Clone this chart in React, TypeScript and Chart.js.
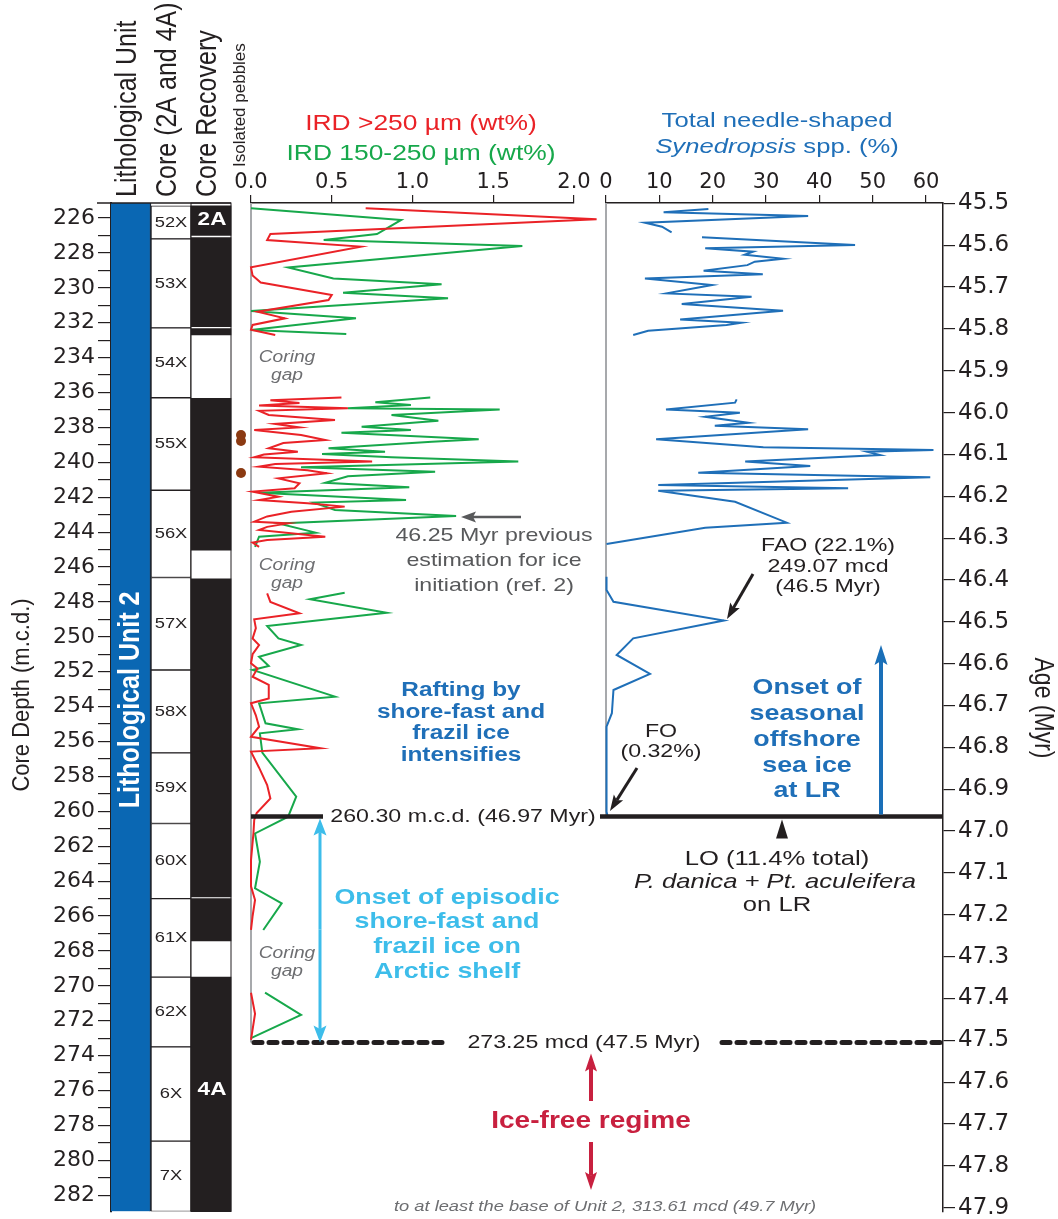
import React, { useEffect, useRef } from 'react';
import { Chart, registerables } from 'chart.js';
Chart.register(...registerables);

const W = 1058;
const H = 1219;
const TOP = 203;
const BOTTOM = 1211.5;
const DEPTH_MIN = 225.14;
const DEPTH_MAX = 282.934;
const AGE_MIN = 45.4993;
const AGE_MAX = 47.909;

const RED = '#ea2227';
const GREEN = '#17a84b';
const BLUE = '#1f6fb8';
const DARK = '#231f20';
const GRAY = '#58595b';
const CYAN = '#3dbdea';
const CRIMSON = '#c8203f';
const FONT = '"Liberation Sans", Arial, sans-serif';
const TICKFONT = 'DejaVu Sans';

// Column categories (the last one holds the isolated-pebble marks)
const columnCategories = ['Lith', 'Core', 'Rec', 'Peb'];
// Core column (Hole 2A and 4A) intervals, m.c.d.
const coreNames = ['52X', '53X', '54X', '55X', '56X', '57X', '58X', '59X', '60X', '61X', '62X', '6X', '7X'];
const coreTops = [225.3, 227.2, 232.3, 236.3, 241.6, 246.6, 251.9, 256.65, 260.7, 265.0, 269.5, 273.5, 278.9];
const coreBases = [227.2, 232.3, 236.3, 241.6, 246.6, 251.9, 256.65, 260.7, 265.0, 269.5, 273.5, 278.9, 282.934];
// Core recovery (recovered intervals)
const recoveryTops = [225.3, 227.12, 232.33, 236.33, 246.68, 265.0, 269.5];
const recoveryBases = [227.0, 232.22, 232.7, 245.03, 264.9, 267.43, 282.934];
// Isolated pebbles
const pebbleDepths = [238.44, 238.78, 240.61];

// IRD >250 µm (wt%)
const irdCoarseDepth = [
  225.44, 226.07, 226.92, 227.26, 227.64, 228.83, 229.3, 229.7, 230.41, 230.7, 231.37, 231.75, 232.13, 232.4, 232.7,
  234.0,
  236.28, 236.45, 236.6, 236.75, 236.9, 237.05, 237.29, 237.58, 237.8, 238.0, 238.15, 238.44, 238.72, 238.9, 239.2,
  239.39, 239.55, 239.71, 239.96, 240.1, 240.25, 240.45, 240.63, 240.92, 241.2, 241.49, 241.68, 241.97, 242.16,
  242.35, 242.54, 242.83, 243.1, 243.4, 243.5, 243.7, 243.88, 244.26, 244.45, 244.6, 244.85,
  246.0,
  247.51, 248.0, 248.65, 249.0, 249.5, 250.09, 250.47, 251.0, 251.52, 251.81, 252.29, 252.76, 253.53, 253.81,
  254.5, 255.15, 255.73, 256.39, 256.58, 257.5, 258.5, 259.26, 260.1, 260.5, 261.27, 262.8, 264.3, 265.08, 266.0, 266.8,
  268.0,
  270.4, 271.6, 272.5, 273.1,
];
const irdCoarseWt = [
  0.71, 2.14, 0.12, 0.1, 0.68, 0.0, 0.01, 0.06, 0.5, 0.48, 0.04, 0.21, 0.01, 0.0, 0.15,
  null,
  0.56, 0.12, 0.3, 0.05, 0.6, 0.05, 0.11, 0.52, 0.15, 0.3, 0.02, 0.31, 0.46, 0.2, 0.11,
  0.29, 0.08, 0.02, 0.75, 0.15, 0.05, 0.35, 0.47, 0.17, 0.3, 0.27, 0.01, 0.17, 0.05,
  0.35, 0.58, 0.25, 0.1, 0.02, 0.23, 0.1, 0.05, 0.46, 0.1, 0.01, 0.05,
  null,
  0.1, 0.12, 0.3, 0.02, 0.03, 0.01, 0.05, 0.01, 0.0, 0.04, 0.01, 0.11, 0.11, 0.0,
  0.03, 0.05, 0.0, 0.43, 0.0, 0.05, 0.1, 0.12, 0.035, 0.02, 0.015, 0.0, 0.0, 0.025, 0.01, 0.0,
  null,
  0.0, 0.025, 0.01, 0.0,
];

// IRD 150-250 µm (wt%)
const irdFineDepth = [
  225.44, 226.11, 226.92, 227.26, 227.6, 228.83, 229.46, 229.8, 230.28, 230.6, 231.33, 231.75, 232.42, 232.65,
  234.0,
  236.28, 236.56, 236.72, 236.9, 236.97, 237.29, 237.62, 237.96, 238.15, 238.3, 238.68, 238.82, 239.2, 239.39,
  239.52, 239.71, 239.96, 240.29, 240.54, 240.8, 241.17, 241.43, 241.74, 242.16, 242.31, 242.73, 243.08, 243.5,
  244.03, 244.26, 244.84,
  246.0,
  247.47, 247.85, 248.62, 249.38, 250.09, 250.47, 251.14, 251.67, 251.9, 253.43, 253.81, 254.96, 255.3, 255.53,
  256.64, 259.16, 260.31, 261.27, 262.89, 264.41, 265.27, 266.8,
  268.0,
  270.39, 271.67, 273.0,
];
const irdFineWt = [
  0.0, 0.93, 0.78, 0.45, 1.68, 0.23, 0.51, 1.18, 0.57, 1.22, 0.0, 0.65, 0.0, 0.59,
  null,
  1.11, 0.77, 0.99, 0.6, 1.54, 0.87, 1.16, 0.685, 0.99, 0.56, 1.41, 1.12, 0.48, 0.83,
  0.44, 0.87, 1.655, 0.31, 1.14, 0.6, 0.46, 0.98, 0.05, 0.96, 0.39, 0.52, 1.27, 0.17,
  0.4, 0.05, 0.025,
  null,
  0.58, 0.365, 0.84, 0.1, 0.17, 0.31, 0.05, 0.11, 0.01, 0.52, 0.05, 0.09, 0.29, 0.055,
  0.07, 0.28, 0.23, 0.025, 0.055, 0.025, 0.19, 0.076,
  null,
  0.087, 0.31, 0.0,
];

// Total needle-shaped Synedropsis spp. (%)
const needleDepth = [
  225.48, 225.67, 225.89, 226.27, 226.5, 226.82,
  226.95,
  227.1, 227.55, 227.74, 227.93, 228.1, 228.33, 228.5, 228.7, 229.02, 229.23, 229.46, 229.84, 230.32, 230.51,
  230.93, 231.31, 231.81, 232.0, 232.13, 232.46, 232.7,
  234.0,
  236.39, 236.58, 236.97, 237.16, 237.39, 237.73, 237.9, 238.11, 238.68, 239.14, 239.3, 239.39, 239.58, 239.96,
  240.21, 240.6, 240.86, 241.3, 241.49, 241.63, 242.26, 243.46, 243.75, 244.68,
  245.5,
  246.56, 247.32, 247.99, 249.07, 250.09, 251.04, 252.13, 253.05, 254.38, 255.15, 260.02, 260.3,
];
const needlePct = [
  19.2, 10.8, 37.9, 7.3, 10.5, 12.3,
  null,
  18.0, 46.7, 18.6, 27.6, 26.0, 33.2, 27.9, 26.5, 18.3, 29.4, 7.3, 19.9, 11.4, 27.3,
  14.2, 33.2, 13.9, 25.4, 22.6, 7.9, 5.1,
  null,
  24.5, 24.2, 11.25, 25.1, 18.6, 26.7, 20.4, 37.9, 9.4, 29.5, 61.4, 48.9, 51.4, 26.1,
  38.3, 17.3, 60.8, 9.8, 45.4, 9.8, 24.2, 33.9, 18.6, 0.1,
  null,
  0.1, 0.1, 1.4, 22.1, 5.1, 2.0, 8.25, 1.4, 1.1, 0.1, 0.1, 0.32,
];

const irdTicks = { min: 0, max: 2, step: 0.5 };
const needleTicks = { min: 0, max: 63.19, step: 10 };

type TxtOpt = { font: string; color?: string; align?: CanvasTextAlign; base?: CanvasTextBaseline; rot?: number; sx?: number };
function txt(ctx: CanvasRenderingContext2D, s: string, x: number, y: number, o: TxtOpt) {
  ctx.save();
  ctx.translate(x, y);
  ctx.scale(o.sx ?? 1.22, 1);
  if (o.rot) ctx.rotate(o.rot);
  ctx.font = o.font;
  ctx.fillStyle = o.color ?? DARK;
  ctx.textAlign = o.align ?? 'center';
  ctx.textBaseline = o.base ?? 'middle';
  ctx.fillText(s, 0, 0);
  ctx.restore();
}

function lines(ctx: CanvasRenderingContext2D, arr: string[], x: number, ys: number[], o: TxtOpt) {
  arr.forEach((s, i) => txt(ctx, s, x, ys[i], o));
}

function arrow(ctx: CanvasRenderingContext2D, x1: number, y1: number, x2: number, y2: number, color: string, lw: number, hl: number, hw: number) {
  const a = Math.atan2(y2 - y1, x2 - x1);
  const bx = x2 - hl * Math.cos(a);
  const by = y2 - hl * Math.sin(a);
  const nx = x2 - hl * 0.8 * Math.cos(a);
  const ny = y2 - hl * 0.8 * Math.sin(a);
  ctx.save();
  ctx.strokeStyle = color;
  ctx.fillStyle = color;
  ctx.lineWidth = lw;
  ctx.beginPath();
  ctx.moveTo(x1, y1);
  ctx.lineTo(nx, ny);
  ctx.stroke();
  ctx.beginPath();
  ctx.moveTo(x2, y2);
  ctx.lineTo(bx + (hw / 2) * Math.sin(a), by - (hw / 2) * Math.cos(a));
  ctx.lineTo(nx, ny);
  ctx.lineTo(bx - (hw / 2) * Math.sin(a), by + (hw / 2) * Math.cos(a));
  ctx.closePath();
  ctx.fill();
  ctx.restore();
}

function hline(ctx: CanvasRenderingContext2D, x1: number, x2: number, y: number, lw: number, dash?: number[]) {
  ctx.save();
  ctx.strokeStyle = DARK;
  ctx.lineWidth = lw;
  if (dash) {
    ctx.setLineDash(dash);
    ctx.lineCap = 'round';
  }
  ctx.beginPath();
  ctx.moveTo(x1, y);
  ctx.lineTo(x2, y);
  ctx.stroke();
  ctx.restore();
}

function vline(ctx: CanvasRenderingContext2D, x: number, y1: number, y2: number, color: string, lw: number) {
  ctx.save();
  ctx.strokeStyle = color;
  ctx.lineWidth = lw;
  ctx.beginPath();
  ctx.moveTo(x, y1);
  ctx.lineTo(x, y2);
  ctx.stroke();
  ctx.restore();
}

// keep axis label overflow from shrinking the plot area (all panels share one depth grid)
const noPad = (s: any) => {
  s.paddingTop = 0;
  s.paddingBottom = 0;
  s.paddingLeft = 0;
  s.paddingRight = 0;
};

const depthScale = { type: 'linear', reverse: true, min: DEPTH_MIN, max: DEPTH_MAX, display: false };

function columnsConfig(): any {
  const barCommon = { grouped: false, barPercentage: 1, categoryPercentage: 1, borderSkipped: false };
  return {
    type: 'bar',
    data: {
      datasets: [
        {
          ...barCommon,
          label: 'Lithological Unit',
          data: [{ x: 'Lith', y: [DEPTH_MIN, DEPTH_MAX] }],
          backgroundColor: '#0a67b3',
          borderColor: '#1b2838',
          borderWidth: { left: 0, right: 1.5, top: 0, bottom: 0 },
        },
        {
          ...barCommon,
          label: 'Core',
          data: coreTops.map((t, i) => ({ x: 'Core', y: [t, coreBases[i]] })),
          backgroundColor: '#ffffff',
          borderColor: DARK,
          borderWidth: 1,
        },
        {
          ...barCommon,
          label: 'Core Recovery',
          data: recoveryTops.map((t, i) => ({ x: 'Rec', y: [t, recoveryBases[i]] })),
          backgroundColor: DARK,
          borderWidth: 0,
        },
        {
          type: 'scatter',
          label: 'Isolated pebbles',
          xAxisID: 'xp',
          yAxisID: 'y',
          data: pebbleDepths.map((d) => ({ x: 3.25, y: d })),
          pointRadius: 5,
          pointStyle: 'circle',
          backgroundColor: '#8b3a12',
          borderColor: '#8b3a12',
          borderWidth: 0,
          clip: false,
        },
      ],
    },
    options: {
      animation: false,
      responsive: false,
      events: [],
      layout: { padding: { left: 0, right: W - 271, top: TOP, bottom: H - BOTTOM } },
      plugins: { legend: { display: false }, tooltip: { enabled: false } },
      scales: {
        x: { type: 'category', labels: columnCategories, display: false, offset: true },
        xp: { type: 'linear', display: false, min: 0, max: columnCategories.length, offset: false },
        y: {
          type: 'linear',
          reverse: true,
          min: DEPTH_MIN,
          max: DEPTH_MAX,
          position: 'left',
          afterFit: (s: any) => {
            s.width = 111;
            noPad(s);
          },
          ticks: {
            stepSize: 1,
            autoSkip: false,
            includeBounds: false,
            callback: (v: number) => (Math.round(v) % 2 === 0 ? String(Math.round(v)) : ''),
            font: { family: TICKFONT, size: 22 },
            color: DARK,
            padding: 3,
          },
          grid: { drawOnChartArea: false, tickLength: 13, color: DARK, lineWidth: 1.2 },
          border: { color: DARK, width: 2 },
        },
      },
    },
    plugins: [
      {
        id: 'columnsDecor',
        afterDraw(chart: any) {
          const ctx = chart.ctx as CanvasRenderingContext2D;
          const ys = chart.scales.y;
          // top frame line
          hline(ctx, 97, 231, TOP, 1.5);
          ctx.save();
          ctx.strokeStyle = DARK;
          ctx.lineWidth = 1;
          ctx.strokeRect(191, TOP, 40, BOTTOM - TOP);
          ctx.restore();
          // headers
          const hf = `25px ${FONT}`;
          txt(ctx, 'Lithological Unit', 128, 197, { font: hf, rot: -Math.PI / 2, align: 'left', sx: 1.2 });
          txt(ctx, 'Core (2A and 4A)', 168, 197, { font: hf, rot: -Math.PI / 2, align: 'left', sx: 1.2 });
          txt(ctx, 'Core Recovery', 208, 197, { font: hf, rot: -Math.PI / 2, align: 'left', sx: 1.2 });
          txt(ctx, 'Isolated pebbles', 240, 167, { font: `17px ${FONT}`, rot: -Math.PI / 2, align: 'left', sx: 1.0 });
          txt(ctx, 'Core Depth (m.c.d.)', 22, 695, { font: `22px ${FONT}`, rot: -Math.PI / 2, sx: 1.1 });
          // core labels
          coreNames.forEach((n, i) => {
            const y = (ys.getPixelForValue(coreTops[i]) + ys.getPixelForValue(coreBases[i])) / 2;
            txt(ctx, n, 171, y, { font: `15px ${FONT}`, sx: 1.22 });
          });
          txt(ctx, '2A', 212, 220, { font: `bold 18px ${FONT}`, color: '#ffffff', sx: 1.25 });
          txt(ctx, '4A', 212, 1090, { font: `bold 18px ${FONT}`, color: '#ffffff', sx: 1.25 });
          txt(ctx, 'Lithological Unit 2', 131, 700, { font: `bold 25px ${FONT}`, color: '#ffffff', rot: -Math.PI / 2, sx: 1.2 });
        },
      },
    ],
  };
}

function irdConfig(): any {
  return {
    type: 'scatter',
    data: {
      datasets: [
        {
          label: 'IRD >250 µm (wt%)',
          data: irdCoarseDepth.map((d, i) => ({ x: irdCoarseWt[i], y: d })),
          showLine: true,
          borderColor: RED,
          borderWidth: 2,
          pointRadius: 0,
          spanGaps: false,
          clip: false,
        },
        {
          label: 'IRD 150-250 µm (wt%)',
          data: irdFineDepth.map((d, i) => ({ x: irdFineWt[i], y: d })),
          showLine: true,
          borderColor: GREEN,
          borderWidth: 2,
          pointRadius: 0,
          spanGaps: false,
          clip: false,
        },
      ],
    },
    options: {
      animation: false,
      responsive: false,
      events: [],
      layout: { padding: { left: 251, right: W - 574, top: TOP - 40, bottom: H - BOTTOM } },
      plugins: { legend: { display: false }, tooltip: { enabled: false } },
      scales: {
        x: {
          type: 'linear',
          position: 'top',
          min: irdTicks.min,
          max: irdTicks.max,
          afterFit: (s: any) => {
            s.height = 40;
            noPad(s);
          },
          ticks: {
            stepSize: irdTicks.step,
            includeBounds: false,
            maxRotation: 0,
            callback: (v: number) => v.toFixed(1),
            font: { family: TICKFONT, size: 21 },
            color: DARK,
            padding: 0,
          },
          grid: { drawOnChartArea: false, tickLength: 8, color: DARK, lineWidth: 1.2 },
          border: { color: DARK, width: 1.5 },
        },
        y: depthScale,
      },
    },
    plugins: [
      {
        id: 'irdDecor',
        beforeDatasetsDraw(chart: any) {
          const ctx = chart.ctx as CanvasRenderingContext2D;
          const ys = chart.scales.y;
          vline(ctx, 251, TOP, ys.getPixelForValue(273.25), '#a7a9ac', 2);
        },
        afterDraw(chart: any) {
          const ctx = chart.ctx as CanvasRenderingContext2D;
          txt(ctx, 'IRD >250 µm (wt%)', 421, 124, { font: `22px ${FONT}`, color: RED, sx: 1.2 });
          txt(ctx, 'IRD 150-250 µm (wt%)', 421, 154, { font: `22px ${FONT}`, color: GREEN, sx: 1.2 });
          const cg = { font: `italic 16px ${FONT}`, color: '#6d6e71', sx: 1.2 };
          txt(ctx, 'Coring', 287, 358, cg);
          txt(ctx, 'gap', 287, 376, cg);
          txt(ctx, 'Coring', 287, 566, cg);
          txt(ctx, 'gap', 287, 584, cg);
          txt(ctx, 'Coring', 287, 954, cg);
          txt(ctx, 'gap', 287, 972, cg);
          arrow(ctx, 521, 517, 461, 517, GRAY, 2.5, 15, 11);
          lines(ctx, ['46.25 Myr previous', 'estimation for ice', 'initiation (ref. 2)'], 494, [536, 561, 586], {
            font: `19px ${FONT}`,
            color: GRAY,
          });
          lines(ctx, ['Rafting by', 'shore-fast and', 'frazil ice', 'intensifies'], 461, [690, 712, 733, 755], {
            font: `bold 20px ${FONT}`,
            color: BLUE,
            sx: 1.22,
          });
        },
      },
    ],
  };
}

function needleConfig(): any {
  return {
    type: 'scatter',
    data: {
      datasets: [
        {
          label: 'Total needle-shaped Synedropsis spp. (%)',
          data: needleDepth.map((d, i) => ({ x: needlePct[i], y: d })),
          showLine: true,
          borderColor: BLUE,
          borderWidth: 2,
          pointRadius: 0,
          spanGaps: false,
          clip: false,
        },
      ],
    },
    options: {
      animation: false,
      responsive: false,
      events: [],
      layout: { padding: { left: 606, right: W - 943 - 100, top: TOP - 40, bottom: H - BOTTOM } },
      plugins: { legend: { display: false }, tooltip: { enabled: false } },
      scales: {
        x: {
          type: 'linear',
          position: 'top',
          min: needleTicks.min,
          max: needleTicks.max,
          afterFit: (s: any) => {
            s.height = 40;
            noPad(s);
          },
          ticks: {
            stepSize: needleTicks.step,
            includeBounds: false,
            maxRotation: 0,
            callback: (v: number) => String(v),
            font: { family: TICKFONT, size: 21 },
            color: DARK,
            padding: 0,
          },
          grid: { drawOnChartArea: false, tickLength: 8, color: DARK, lineWidth: 1.2 },
          border: { color: DARK, width: 1.5 },
        },
        y: depthScale,
        age: {
          type: 'linear',
          position: 'right',
          reverse: true,
          min: AGE_MIN,
          max: AGE_MAX,
          afterFit: (s: any) => {
            s.width = 100;
            noPad(s);
          },
          ticks: {
            stepSize: 0.1,
            autoSkip: false,
            includeBounds: false,
            callback: (v: number) => v.toFixed(1),
            font: { family: TICKFONT, size: 23 },
            color: DARK,
            padding: 3,
          },
          grid: { drawOnChartArea: false, tickLength: 12, color: DARK, lineWidth: 1.2 },
          border: { color: DARK, width: 1.5 },
        },
      },
    },
    plugins: [
      {
        id: 'needleDecor',
        beforeDatasetsDraw(chart: any) {
          const ctx = chart.ctx as CanvasRenderingContext2D;
          const ys = chart.scales.y;
          vline(ctx, 606, TOP, ys.getPixelForValue(260.3), '#a7a9ac', 2);
        },
        afterDraw(chart: any) {
          const ctx = chart.ctx as CanvasRenderingContext2D;
          const ys = chart.scales.y;
          const y260 = ys.getPixelForValue(260.3);
          const y273 = ys.getPixelForValue(273.25);

          // titles
          txt(ctx, 'Total needle-shaped', 777, 121, { font: `21px ${FONT}`, color: BLUE, sx: 1.22 });
          ctx.save();
          ctx.translate(777, 147);
          ctx.scale(1.22, 1);
          ctx.textBaseline = 'middle';
          ctx.textAlign = 'left';
          ctx.fillStyle = BLUE;
          const f1 = `italic 21px ${FONT}`;
          const f2 = `21px ${FONT}`;
          ctx.font = f1;
          const w1 = ctx.measureText('Synedropsis').width;
          ctx.font = f2;
          const w2 = ctx.measureText(' spp. (%)').width;
          const sx0 = -(w1 + w2) / 2;
          ctx.font = f1;
          ctx.fillText('Synedropsis', sx0, 0);
          ctx.font = f2;
          ctx.fillText(' spp. (%)', sx0 + w1, 0);
          ctx.restore();

          txt(ctx, 'Age (Myr)', 1043, 708, { font: `23px ${FONT}`, rot: Math.PI / 2, sx: 1.2 });

          // 260.30 horizon
          hline(ctx, 251, 323, y260, 4.5);
          hline(ctx, 600, 943, y260, 4.5);
          txt(ctx, '260.30 m.c.d. (46.97 Myr)', 463, y260, { font: `19px ${FONT}` });

          // 273.25 horizon (dashed)
          hline(ctx, 254, 445, y273, 5, [8, 7]);
          hline(ctx, 722, 940, y273, 5, [8, 7]);
          txt(ctx, '273.25 mcd (47.5 Myr)', 584, y273, { font: `19px ${FONT}` });

          // cyan double arrow + text
          const mid = (y260 + y273) / 2;
          arrow(ctx, 320, mid, 320, y260 + 2, CYAN, 3, 17, 13);
          arrow(ctx, 320, mid, 320, y273, CYAN, 3, 17, 13);
          lines(ctx, ['Onset of episodic', 'shore-fast and', 'frazil ice on', 'Arctic shelf'], 447, [898, 922, 947, 972], {
            font: `bold 22px ${FONT}`,
            color: CYAN,
          });

          // Ice-free regime
          arrow(ctx, 591, 1101, 591, y273 + 11, CRIMSON, 4, 18, 12);
          arrow(ctx, 591, 1142, 591, 1190, CRIMSON, 4, 18, 12);
          txt(ctx, 'Ice-free regime', 591, 1122, { font: `bold 23px ${FONT}`, color: CRIMSON });
          txt(ctx, 'to at least the base of Unit 2, 313.61 mcd (49.7 Myr)', 605, 1207, {
            font: `italic 15px ${FONT}`,
            color: '#6d6e71',
          });

          // FAO
          lines(ctx, ['FAO (22.1%)', '249.07 mcd', '(46.5 Myr)'], 828, [546, 567, 587], { font: `19px ${FONT}` });
          arrow(ctx, 753, 574, 727, 619, DARK, 3, 16, 11);
          // FO
          lines(ctx, ['FO', '(0.32%)'], 661, [732, 752], { font: `19px ${FONT}` });
          arrow(ctx, 637, 768, 610, 811, DARK, 3, 16, 11);
          // LO
          ctx.save();
          ctx.fillStyle = DARK;
          ctx.beginPath();
          ctx.moveTo(782, y260 + 3);
          ctx.lineTo(776, y260 + 22);
          ctx.lineTo(788, y260 + 22);
          ctx.closePath();
          ctx.fill();
          ctx.restore();
          txt(ctx, 'LO (11.4% total)', 777, 859, { font: `21px ${FONT}` });
          txt(ctx, 'P. danica + Pt. aculeifera', 775, 882, { font: `italic 21px ${FONT}` });
          txt(ctx, 'on LR', 777, 905, { font: `21px ${FONT}` });

          // Onset of seasonal offshore sea ice
          arrow(ctx, 881, y260 - 2, 881, 645, '#1a6fb8', 4, 20, 13);
          lines(ctx, ['Onset of', 'seasonal', 'offshore', 'sea ice', 'at LR'], 807, [688, 714, 740, 766, 791], {
            font: `bold 22px ${FONT}`,
            color: BLUE,
          });
        },
      },
    ],
  };
}

export default function App() {
  const c1 = useRef<HTMLCanvasElement>(null);
  const c2 = useRef<HTMLCanvasElement>(null);
  const c3 = useRef<HTMLCanvasElement>(null);

  useEffect(() => {
    const charts = [
      new Chart(c1.current as HTMLCanvasElement, columnsConfig()),
      new Chart(c2.current as HTMLCanvasElement, irdConfig()),
      new Chart(c3.current as HTMLCanvasElement, needleConfig()),
    ];
    return () => charts.forEach((c) => c.destroy());
  }, []);

  const st: React.CSSProperties = { position: 'absolute', left: 0, top: 0, width: W, height: H };
  return (
    <div style={{ position: 'absolute', left: 0, top: 0, width: W, height: H, background: '#ffffff' }}>
      <canvas ref={c1} width={W} height={H} style={st} />
      <canvas ref={c2} width={W} height={H} style={st} />
      <canvas ref={c3} width={W} height={H} style={st} />
    </div>
  );
}
